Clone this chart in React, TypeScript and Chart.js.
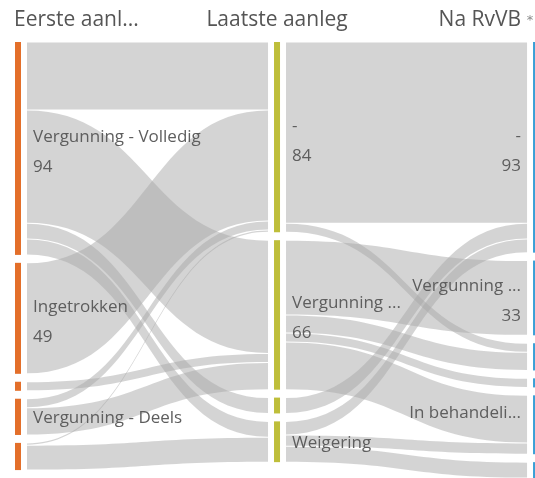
import React, { useEffect, useRef } from 'react';
import { Chart, registerables } from 'chart.js';

Chart.register(...registerables);

// ---- data ----
const columnTitles = ['Eerste aanl...', 'Laatste aanleg', 'Na RvVB'];
const columnColors = ['#E36F2A', '#BEBE3A', '#3A9FD6'];

// node names per column (empty = not readable / too small to be labelled)
const firstNodes = ['Vergunning - Volledig', 'Ingetrokken', '', 'Vergunning - Deels', ''];
const lastNodes = ['-', 'Vergunning ...', '', 'Weigering'];
const rvvbNodes = ['-', 'Vergunning ...', '', '', 'In behandeli...', ''];

// flows: [source index, target index, value]
const firstToLast: [number, number, number][] = [
  [0, 0, 30], [0, 1, 50], [0, 2, 7], [0, 3, 7],
  [1, 0, 49],
  [2, 1, 4],
  [3, 0, 4], [3, 1, 12],
  [4, 0, 1], [4, 3, 11],
];
const lastToRvvb: [number, number, number][] = [
  [0, 0, 80], [0, 2, 4],
  [1, 1, 33], [1, 2, 8], [1, 3, 4], [1, 4, 21],
  [2, 0, 7],
  [3, 0, 6], [3, 4, 5], [3, 5, 7],
];

const NODE_PAD = 3.5;
const Y_MAX = 192.5;
const X_MAX = 1.996;

function computeLayout() {
  const columns = [firstNodes, lastNodes, rvvbNodes];
  const linkSets = [firstToLast, lastToRvvb];
  const inV = columns.map((c) => c.map(() => 0));
  const outV = columns.map((c) => c.map(() => 0));
  linkSets.forEach((set, ci) =>
    set.forEach(([s, t, v]) => {
      outV[ci][s] += v;
      inV[ci + 1][t] += v;
    })
  );
  const values = columns.map((c, ci) => c.map((_, ni) => Math.max(inV[ci][ni], outV[ci][ni])));
  const tops = values.map((col) => {
    let acc = 0;
    return col.map((v) => {
      const t = acc;
      acc += v + NODE_PAD;
      return t;
    });
  });
  const links: { ci: number; v: number; sy: number; ty: number }[] = [];
  linkSets.forEach((set, ci) => {
    const outOff = values[ci].map(() => 0);
    const inOff = values[ci + 1].map(() => 0);
    const idx = set.map((_, i) => i);
    const sy: number[] = [];
    const ty: number[] = [];
    [...idx]
      .sort((a, b) => set[a][0] - set[b][0] || set[a][1] - set[b][1])
      .forEach((i) => {
        const [s, , v] = set[i];
        sy[i] = tops[ci][s] + outOff[s];
        outOff[s] += v;
      });
    [...idx]
      .sort((a, b) => set[a][1] - set[b][1] || set[a][0] - set[b][0])
      .forEach((i) => {
        const [, t, v] = set[i];
        ty[i] = tops[ci + 1][t] + inOff[t];
        inOff[t] += v;
      });
    set.forEach(([, , v], i) => links.push({ ci, v, sy: sy[i], ty: ty[i] }));
  });
  return { columns, values, tops, links };
}

const sankeyPlugin = {
  id: 'sankeyFlows',
  afterDatasetsDraw(chart: any) {
    const { ctx } = chart;
    const xs = chart.scales.x;
    const ys = chart.scales.y;
    const L = computeLayout();
    ctx.save();

    // links
    ctx.fillStyle = 'rgba(170,170,170,0.5)';
    L.links.forEach((l) => {
      const x0 = xs.getPixelForValue(l.ci) + 9;
      const x1 = xs.getPixelForValue(l.ci + 1) - 9;
      const xm = (x0 + x1) / 2;
      const a0 = ys.getPixelForValue(l.sy) + 0.5;
      const a1 = ys.getPixelForValue(l.sy + l.v) - 0.5;
      const b0 = ys.getPixelForValue(l.ty) + 0.5;
      const b1 = ys.getPixelForValue(l.ty + l.v) - 0.5;
      ctx.beginPath();
      ctx.moveTo(x0, a0);
      ctx.bezierCurveTo(xm, a0, xm, b0, x1, b0);
      ctx.lineTo(x1, b1);
      ctx.bezierCurveTo(xm, b1, xm, a1, x0, a1);
      ctx.closePath();
      ctx.fill();
    });

    // nodes
    L.columns.forEach((names, ci) => {
      ctx.fillStyle = columnColors[ci];
      const cx = xs.getPixelForValue(ci);
      names.forEach((_, ni) => {
        const top = ys.getPixelForValue(L.tops[ci][ni]);
        const bot = ys.getPixelForValue(L.tops[ci][ni] + L.values[ci][ni]);
        ctx.fillRect(cx - 3, top, 6, bot - top);
      });
    });

    // node labels
    ctx.font = '17px "Open Sans"';
    ctx.fillStyle = '#5e5e5e';
    ctx.textBaseline = 'alphabetic';
    L.columns.forEach((names, ci) => {
      const isLast = ci === L.columns.length - 1;
      const cx = xs.getPixelForValue(ci);
      const lx = isLast ? cx - 15 : cx + 15;
      ctx.textAlign = isLast ? 'right' : 'left';
      names.forEach((name, ni) => {
        const v = L.values[ci][ni];
        const top = ys.getPixelForValue(L.tops[ci][ni]);
        const bot = ys.getPixelForValue(L.tops[ci][ni] + v);
        const h = bot - top;
        const c = (top + bot) / 2;
        if (!name || h < 30) return;
        if (h >= 50) {
          ctx.fillText(name, lx, c - 6.5);
          if (h >= 65) ctx.fillText(String(v), lx, c + 23.5);
        } else {
          ctx.fillText(name, lx, c + 6);
        }
      });
    });

    // column titles
    const ty = chart.chartArea.top - 22;
    ctx.font = '21px "Open Sans"';
    ctx.fillStyle = '#555555';
    ctx.textBaseline = 'middle';
    ctx.textAlign = 'left';
    ctx.fillText(columnTitles[0], xs.getPixelForValue(0) - 4, ty);
    ctx.textAlign = 'center';
    ctx.fillText(columnTitles[1], xs.getPixelForValue(1), ty);
    ctx.textAlign = 'right';
    ctx.fillText(columnTitles[2], xs.getPixelForValue(2) - 15, ty);
    ctx.font = '13px "DejaVu Sans"';
    ctx.fillStyle = '#8a8a8a';
    ctx.textAlign = 'center';
    ctx.fillText('*', xs.getPixelForValue(2) - 6, ty + 1);

    ctx.restore();
  },
};

export default function App() {
  const canvasRef = useRef<HTMLCanvasElement | null>(null);

  useEffect(() => {
    if (!canvasRef.current) return;
    const L = computeLayout();
    const points = L.columns.flatMap((names, ci) =>
      names.map((_, ni) => ({ x: ci, y: L.tops[ci][ni] + L.values[ci][ni] / 2 }))
    );
    const chart = new Chart(canvasRef.current, {
      type: 'scatter',
      data: {
        datasets: [{ data: points, pointRadius: 0, pointHoverRadius: 0 }],
      },
      options: {
        animation: false,
        responsive: true,
        maintainAspectRatio: false,
        events: [],
        layout: { padding: { top: 42, left: 18, right: 0, bottom: 0 } },
        scales: {
          x: { type: 'linear', min: 0, max: X_MAX, display: false },
          y: { type: 'linear', min: 0, max: Y_MAX, reverse: true, display: false },
        },
        plugins: { legend: { display: false }, tooltip: { enabled: false } },
      },
      plugins: [sankeyPlugin],
    });
    return () => chart.destroy();
  }, []);

  return (
    <div
      style={{
        position: 'fixed',
        left: 0,
        top: 0,
        width: 535,
        height: 478,
        background: '#ffffff',
        overflow: 'hidden',
      }}
    >
      <canvas ref={canvasRef} />
    </div>
  );
}
